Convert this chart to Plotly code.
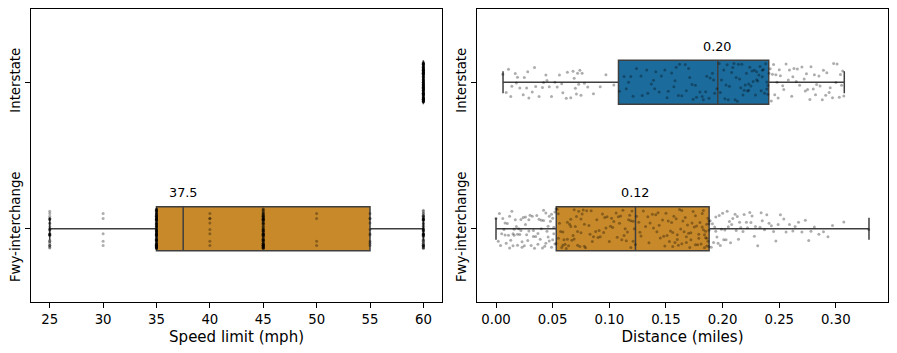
import plotly.graph_objects as go

# categories (numeric positions on the y axis, bottom to top)
categories = ["Fwy-interchange", "Interstate"]

# speed limit points per category: value -> count
fwy_speed_values = [25, 30, 35, 40, 45, 50, 55, 60]
fwy_speed_counts = [30, 5, 110, 8, 90, 4, 10, 60]
int_speed_values = [60]
int_speed_counts = [150]

# box statistics (left panel)
speed_q1 = [35, 60]
speed_median = [37.5, 60]
speed_q3 = [55, 60]
speed_lo = [25, 60]
speed_hi = [60, 60]

# box statistics (right panel)
dist_q1 = [0.0532, 0.1081]
dist_median = [0.1231, 0.1957]
dist_q3 = [0.1881, 0.2407]
dist_lo = [0.0, 0.0062]
dist_hi = [0.3292, 0.3074]

# distance samples (miles)
int_dist = [
    0.006, 0.009, 0.013, 0.014, 0.017, 0.018, 0.021, 0.024, 0.025, 0.028,
    0.029, 0.032, 0.034, 0.035, 0.038, 0.041, 0.042, 0.045, 0.047, 0.049,
    0.052, 0.054, 0.056, 0.059, 0.062, 0.063, 0.066, 0.068, 0.069, 0.071,
    0.072, 0.073, 0.074, 0.076, 0.078, 0.081, 0.086, 0.092, 0.097, 0.104,
    0.109, 0.113, 0.115, 0.119, 0.121, 0.124, 0.128, 0.129, 0.133, 0.134,
    0.137, 0.140, 0.141, 0.144, 0.146, 0.149, 0.151, 0.152, 0.155, 0.157,
    0.158, 0.161, 0.162, 0.164, 0.167, 0.168, 0.170, 0.173, 0.174, 0.176,
    0.177, 0.180, 0.182, 0.183, 0.186, 0.188, 0.189, 0.191, 0.193, 0.195,
    0.197, 0.198, 0.199, 0.201, 0.202, 0.204, 0.205, 0.206, 0.208, 0.209,
    0.210, 0.212, 0.213, 0.214, 0.215, 0.217, 0.218, 0.219, 0.220, 0.221,
    0.222, 0.223, 0.224, 0.225, 0.226, 0.227, 0.228, 0.229, 0.230, 0.231,
    0.232, 0.233, 0.234, 0.235, 0.236, 0.237, 0.238, 0.239, 0.240, 0.240,
    0.242, 0.243, 0.244, 0.245, 0.246, 0.247, 0.248, 0.250, 0.251, 0.253,
    0.254, 0.256, 0.258, 0.259, 0.261, 0.263, 0.265, 0.266, 0.268, 0.270,
    0.272, 0.273, 0.275, 0.277, 0.278, 0.280, 0.281, 0.283, 0.285, 0.286,
    0.289, 0.291, 0.292, 0.295, 0.297, 0.298, 0.301, 0.303, 0.305, 0.307,
    0.011, 0.019, 0.027, 0.044, 0.058, 0.070, 0.075, 0.117, 0.139, 0.159,
    0.171, 0.185, 0.192, 0.203, 0.211, 0.216, 0.223, 0.230, 0.235, 0.239,
    0.241, 0.249, 0.262, 0.274, 0.282, 0.288, 0.294, 0.300, 0.304, 0.306,
]
fwy_dist = [
    0.000, 0.002, 0.004, 0.005, 0.006, 0.007, 0.008, 0.009, 0.010, 0.011,
    0.012, 0.013, 0.014, 0.015, 0.015, 0.016, 0.017, 0.018, 0.019, 0.020,
    0.021, 0.022, 0.022, 0.023, 0.024, 0.025, 0.026, 0.027, 0.028, 0.029,
    0.030, 0.031, 0.032, 0.033, 0.034, 0.035, 0.036, 0.037, 0.038, 0.039,
    0.040, 0.041, 0.042, 0.042, 0.043, 0.044, 0.045, 0.046, 0.046, 0.047,
    0.048, 0.049, 0.049, 0.050, 0.051, 0.051, 0.052, 0.052, 0.053, 0.053,
    0.054, 0.055, 0.056, 0.057, 0.058, 0.059, 0.060, 0.061, 0.062, 0.063,
    0.064, 0.065, 0.066, 0.067, 0.068, 0.069, 0.070, 0.071, 0.072, 0.073,
    0.074, 0.075, 0.076, 0.077, 0.078, 0.079, 0.080, 0.082, 0.083, 0.085,
    0.086, 0.088, 0.089, 0.091, 0.092, 0.094, 0.095, 0.097, 0.098, 0.100,
    0.101, 0.103, 0.104, 0.106, 0.107, 0.109, 0.110, 0.111, 0.113, 0.114,
    0.115, 0.116, 0.117, 0.118, 0.119, 0.120, 0.121, 0.121, 0.122, 0.123,
    0.124, 0.126, 0.128, 0.130, 0.132, 0.134, 0.136, 0.138, 0.139, 0.141,
    0.142, 0.144, 0.145, 0.147, 0.148, 0.150, 0.151, 0.152, 0.153, 0.154,
    0.155, 0.156, 0.157, 0.158, 0.159, 0.160, 0.161, 0.162, 0.163, 0.164,
    0.165, 0.166, 0.167, 0.168, 0.169, 0.170, 0.171, 0.172, 0.173, 0.174,
    0.175, 0.176, 0.177, 0.178, 0.179, 0.180, 0.181, 0.182, 0.183, 0.183,
    0.184, 0.185, 0.185, 0.186, 0.186, 0.187, 0.187, 0.188, 0.188, 0.188,
    0.189, 0.190, 0.191, 0.192, 0.193, 0.194, 0.195, 0.196, 0.197, 0.198,
    0.199, 0.200, 0.202, 0.203, 0.204, 0.205, 0.207, 0.208, 0.209, 0.211,
    0.212, 0.213, 0.215, 0.216, 0.218, 0.219, 0.221, 0.222, 0.224, 0.226,
    0.228, 0.229, 0.231, 0.233, 0.235, 0.237, 0.239, 0.241, 0.243, 0.245,
    0.247, 0.249, 0.251, 0.254, 0.256, 0.259, 0.262, 0.264, 0.267, 0.270,
    0.273, 0.276, 0.278, 0.281, 0.285, 0.289, 0.293, 0.297, 0.307, 0.329,
    0.003, 0.008, 0.012, 0.016, 0.019, 0.023, 0.026, 0.029, 0.033, 0.037,
    0.040, 0.044, 0.047, 0.050, 0.055, 0.059, 0.063, 0.066, 0.069, 0.072,
    0.075, 0.078, 0.084, 0.090, 0.096, 0.102, 0.108, 0.112, 0.119, 0.127,
    0.135, 0.143, 0.149, 0.156, 0.160, 0.164, 0.168, 0.172, 0.176, 0.179,
    0.182, 0.184, 0.186, 0.188, 0.194, 0.201, 0.206, 0.214, 0.225, 0.234,
]

# labels shown above the boxes
speed_labels = ["37.5", None]
dist_labels = ["0.12", "0.20"]

colors = ["#c8892a", "#1b6b9c"]
edge = "#3f3f3f"
tick_font = dict(family="DejaVu Sans", size=13.3, color="black")
title_font = dict(family="DejaVu Sans", size=15, color="black")
label_font = dict(family="DejaVu Sans", size=12.8, color="black")

# speed strips: one group per distinct value so every group gets full jitter
speed_groups = [
    [[v] * c for v, c in zip(fwy_speed_values, fwy_speed_counts)],
    [[v] * c for v, c in zip(int_speed_values, int_speed_counts)],
]
dist_groups = [[fwy_dist], [int_dist]]

fig = go.Figure()

panels = [
    ("x", "y", speed_q1, speed_median, speed_q3, speed_lo, speed_hi, speed_groups, speed_labels),
    ("x2", "y2", dist_q1, dist_median, dist_q3, dist_lo, dist_hi, dist_groups, dist_labels),
]

for xa, ya, q1, med, q3, lo, hi, groups, labels in panels:
    for i in range(len(categories)):
        fig.add_trace(go.Box(
            y=[i], q1=[q1[i]], median=[med[i]], q3=[q3[i]],
            lowerfence=[lo[i]], upperfence=[hi[i]],
            orientation="h", width=0.3, whiskerwidth=0.5,
            fillcolor=colors[i], line=dict(color=edge, width=1.5),
            boxpoints=False, showlegend=False, xaxis=xa, yaxis=ya,
        ))
        for pts in groups[i]:
            fig.add_trace(go.Box(
                x=pts, y=[i] * len(pts),
                orientation="h", width=0.3, boxpoints="all", jitter=0.9, pointpos=0,
                fillcolor="rgba(0,0,0,0)", line=dict(width=0, color="rgba(0,0,0,0)"),
                marker=dict(size=3, color="rgba(0,0,0,0.32)"),
                hoveron="points", showlegend=False, xaxis=xa, yaxis=ya,
            ))
        if labels[i]:
            fig.add_annotation(x=med[i], y=i + 0.245, xref=xa, yref=ya,
                               text=labels[i], showarrow=False, font=label_font,
                               yanchor="middle")

axis_style = dict(showline=True, linecolor="black", linewidth=1, mirror=True,
                  ticks="outside", ticklen=5, tickwidth=1, tickcolor="black",
                  showgrid=False, zeroline=False, tickfont=tick_font)

# the page body adds an 8px offset, so domains are shifted to compensate
fig.update_layout(
    width=897, height=353,
    margin=dict(l=0, r=0, t=0, b=0),
    plot_bgcolor="white", paper_bgcolor="white",
    boxmode="overlay",
    xaxis=dict(domain=[0.0257, 0.4839], range=[23.25, 61.75],
               tickvals=[25, 30, 35, 40, 45, 50, 55, 60],
               title=dict(text="Speed limit (mph)", font=title_font, standoff=5),
               **axis_style),
    xaxis2=dict(domain=[0.5232, 0.9807], range=[-0.0165, 0.3457],
                tickvals=[0, 0.05, 0.1, 0.15, 0.2, 0.25, 0.3], tickformat=".2f",
                title=dict(text="Distance (miles)", font=title_font, standoff=5),
                **axis_style),
    yaxis=dict(domain=[0.1671, 0.9972], range=[-0.5, 1.5],
               tickvals=[0, 1], ticktext=categories, tickangle=-90,
               **axis_style),
    yaxis2=dict(domain=[0.1671, 0.9972], range=[-0.5, 1.5], anchor="x2",
                tickvals=[0, 1], ticktext=categories, tickangle=-90,
                **axis_style),
)
fig.update_layout(xaxis2_anchor="y2")

fig.write_html("out.html")
